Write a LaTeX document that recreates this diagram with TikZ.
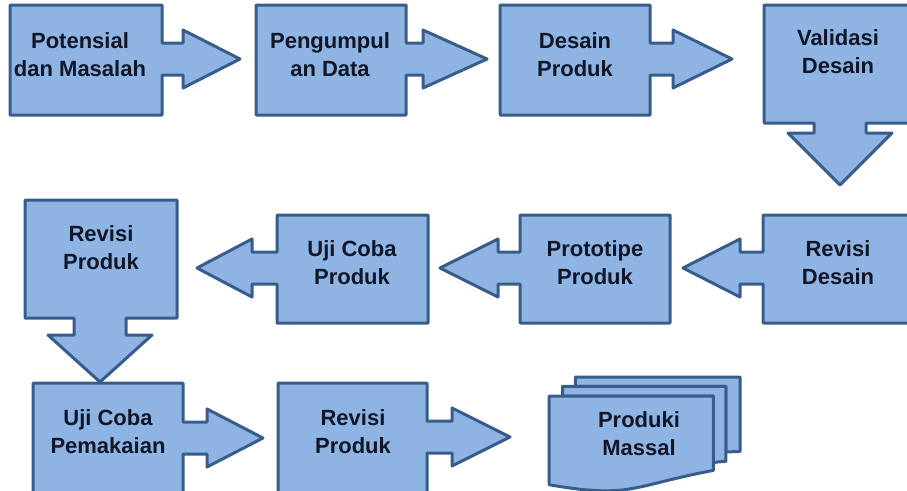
\documentclass[tikz,border=0pt]{standalone}
\usepackage{fontspec}
\setmainfont{Liberation Sans}
\definecolor{boxfill}{RGB}{142,180,227}
\definecolor{boxline}{RGB}{56,93,138}
\definecolor{labeltext}{RGB}{18,22,38}
\tikzset{
  callout/.style={fill=boxfill, draw=boxline, line width=3pt, line join=round},
  label/.style={align=center, inner sep=0pt, text=labeltext,
    font=\bfseries\fontsize{22}{28}\selectfont}
}
% right-pointing callout: x1,y1,x2,y2,cy,headbase,tip
\newcommand{\RCall}[7]{%
  \draw[callout] (#1,#2) -- (#3,#2) -- (#3,#5-16) -- (#6,#5-16) -- (#6,#5-29)
    -- (#7,#5) -- (#6,#5+29) -- (#6,#5+16) -- (#3,#5+16) -- (#3,#4) -- (#1,#4) -- cycle;}
% left-pointing callout: x1,y1,x2,y2,cy,headbase,tip
\newcommand{\LCall}[7]{%
  \draw[callout] (#1,#2) -- (#3,#2) -- (#3,#4) -- (#1,#4) -- (#1,#5+16) -- (#6,#5+16)
    -- (#6,#5+29) -- (#7,#5) -- (#6,#5-29) -- (#6,#5-16) -- (#1,#5-16) -- cycle;}
% down-pointing callout: x1,y1,x2,y2,cx,headbase,tip
\newcommand{\DCall}[7]{%
  \draw[callout] (#1,#2) -- (#3,#2) -- (#3,#4) -- (#5+26,#4) -- (#5+26,#6) -- (#5+52,#6)
    -- (#5,#7) -- (#5-52,#6) -- (#5-26,#6) -- (#5-26,#4) -- (#1,#4) -- cycle;}
\begin{document}
\begin{tikzpicture}[x=1pt,y=-1pt]
\useasboundingbox (0,0) rectangle (907,490);
\clip (0,0) rectangle (907,490);

% row 1
\RCall{10}{5}{162}{115}{59}{183}{240}
\RCall{256}{5}{406}{115}{59}{423}{487}
\RCall{500}{5}{650}{115}{59}{673}{732}
\DCall{764}{5}{916}{123}{840}{133}{185}

% row 2
\LCall{763}{215}{916}{323}{268}{740}{683}
\LCall{520}{215}{670}{323}{268}{498}{440}
\LCall{277}{215}{428}{323}{268}{252}{197}
\DCall{25}{200}{177}{318}{100}{335}{382}

% row 3
\RCall{33}{383}{183}{510}{438}{207}{263}
\RCall{278}{383}{427}{510}{437}{452}{510}

% multidocument
\draw[callout] (575.3,386.4) -- (575.3,377) -- (740,377) -- (740,451.6)
  .. controls (732.9,451.6) and (725.9,452.0) .. (725.9,452.0) -- (725.9,386.4) -- cycle;
\draw[callout] (562.5,396.1) -- (562.5,386.4) -- (725.9,386.4) -- (725.9,461.3)
  .. controls (719.6,461.8) and (713.4,462.3) .. (713.4,462.8) -- (713.4,396.1) -- cycle;
\draw[callout] (549,484.7) .. controls (631.2,499.0) and (631.2,485.8) .. (713.4,470.4)
  -- (713.4,396.1) -- (549,396.1) -- cycle;

% labels
\node[label] (potensial) at (80,55) {Potensial\\dan Masalah};
\node[label] (pengumpulan) at (330,55) {Pengumpul\\an Data};
\node[label] (desain) at (575,55) {Desain\\Produk};
\node[label] (validasi) at (838,52) {Validasi\\Desain};
\node[label] (revdesain) at (838,263) {Revisi\\Desain};
\node[label] (prototipe) at (595,263) {Prototipe\\Produk};
\node[label] (ujiproduk) at (352,263) {Uji Coba\\Produk};
\node[label] (revproduk1) at (101,248) {Revisi\\Produk};
\node[label] (ujipakai) at (108,432) {Uji Coba\\Pemakaian};
\node[label] (revproduk2) at (353,432) {Revisi\\Produk};
\node[label] (massal) at (639,434) {Produki\\Massal};
\end{tikzpicture}
\end{document}
